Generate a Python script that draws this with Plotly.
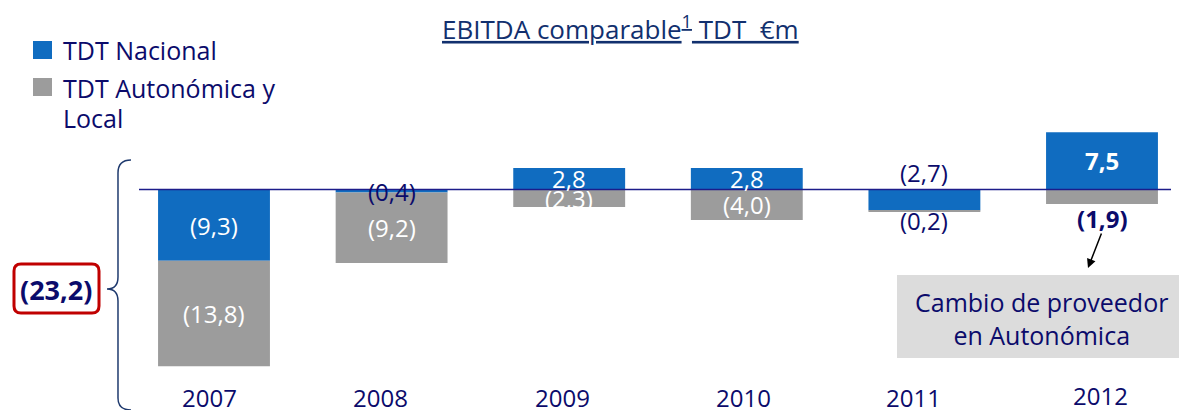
import plotly.graph_objects as go

# ---------------- data ----------------
years = ["2007", "2008", "2009", "2010", "2011", "2012"]
nacional = [-9.3, -0.4, 2.8, 2.8, -2.7, 7.5]
autonomica = [-13.8, -9.2, -2.3, -4.0, -0.2, -1.9]
series_names = ["TDT Nacional", "TDT Autonómica y<br>Local"]
title_text = "EBITDA comparable<sup>1</sup> TDT\u00a0 €m"
total_2007_label = "(23,2)"
callout_text = "Cambio de proveedor<br>en Autonómica"

# ---------------- styles ----------------
BLUE = "#106cc0"
GRAY = "#9c9c9c"
NAVY = "#0b0b6b"
TITLE_NAVY = "#12306e"
FONT = "Open Sans"
W, H = 1179, 410

# label placement / style per bar (not data)
nac_pos = ["center", "center", "center", "center", "above", "center"]
nac_col = ["white", NAVY, "white", "white", NAVY, "white"]
nac_bold = [False, False, False, False, False, True]
aut_pos = ["center", "center", "center", "center", "below", "below"]
aut_col = ["white", "white", "white", "white", NAVY, NAVY]
aut_bold = [False, False, False, False, False, True]
aut_below_px = [0, 0, 0, 0, 9, 14]          # label centre offset under bar end
year_xshift = [-5, -11, -7, -3, -11, -2]
year_ypx = [397, 397, 397, 397, 397, 395]

# pixel geometry helpers (layout only)
ZERO_PX, K = 189.5, 7.65          # y pixel of zero, pixels per unit
C0, STEP = 214.0, 177.6           # x pixel of first category, spacing
y_range = [-(H - ZERO_PX) / K, ZERO_PX / K]
x_range = [-C0 / STEP, (W - C0) / STEP]


def px(x):
    return x / W


def py(y):
    return 1 - y / H


def fmt(v):
    s = f"{abs(v):.1f}".replace(".", ",")
    return f"({s})" if v < 0 else s


fig = go.Figure()
fig.add_trace(go.Bar(x=years, y=nacional, name=series_names[0],
                     marker=dict(color=BLUE, line=dict(width=0)),
                     width=0.63, showlegend=False, hoverinfo="skip"))
fig.add_trace(go.Bar(x=years, y=autonomica, name=series_names[1],
                     marker=dict(color=GRAY, line=dict(width=0)),
                     width=0.63, showlegend=False, hoverinfo="skip"))

annotations = []
shapes = []

# baseline
shapes.append(dict(type="line", xref="paper", yref="y",
                   x0=px(139), x1=px(1171), y0=0, y1=0,
                   line=dict(color="#1c1c8a", width=1.5), layer="above"))

# bar labels (x given as category index)
for i, yr in enumerate(years):
    vn, va = nacional[i], autonomica[i]
    base_a = vn if (va < 0) == (vn < 0) else 0
    for v, base, pos, col, bold, off in [
        (vn, 0, nac_pos[i], nac_col[i], nac_bold[i], 0),
        (va, base_a, aut_pos[i], aut_col[i], aut_bold[i], aut_below_px[i]),
    ]:
        txt = fmt(v)
        if bold:
            txt = f"<b>{txt}</b>"
        a = dict(x=i, xref="x", yref="y", text=txt, showarrow=False,
                 borderpad=0,
                 font=dict(family=FONT, size=24, color=col))
        if pos == "center":
            a.update(y=base + v / 2, yanchor="middle")
        elif pos == "above":
            a.update(y=0, yanchor="bottom", yshift=0)
        else:  # below
            a.update(y=base + v, yanchor="middle", yshift=-off)
        annotations.append(a)

# year labels
for i, yr in enumerate(years):
    annotations.append(dict(x=i, xref="x", yref="paper", y=py(year_ypx[i]),
                            xshift=year_xshift[i], borderpad=0,
                            text=yr, showarrow=False, yanchor="middle",
                            font=dict(family=FONT, size=24, color=NAVY)))

# title
annotations.append(dict(x=px(620), y=py(28), xref="paper", yref="paper",
                        text=f"<u>{title_text}</u>", showarrow=False,
                        xanchor="center", yanchor="middle",
                        font=dict(family=FONT, size=26, color=TITLE_NAVY)))

# legend (custom)
for j, (col, ytop) in enumerate([(BLUE, 41), (GRAY, 78)]):
    shapes.append(dict(type="rect", xref="paper", yref="paper",
                       x0=px(33), x1=px(52), y0=py(ytop), y1=py(ytop + 18),
                       fillcolor=col, line=dict(width=0)))
legend_lines = [(series_names[0], 50)] + [
    (ln, y) for ln, y in zip(series_names[1].split("<br>"), [88, 118])]
for txt, ycen in legend_lines:
    annotations.append(dict(x=px(61), y=py(ycen), xref="paper", yref="paper",
                            text=txt, showarrow=False,
                            xanchor="left", yanchor="middle", align="left",
                            font=dict(family=FONT, size=25, color=NAVY)))

# brace
def P(x, y):
    return f"{px(x):.5f},{py(y):.5f}"

brace = (f"M {P(131,160)} Q {P(118,160)} {P(118,173)} L {P(118,277)} "
         f"Q {P(118,289)} {P(107,289)} Q {P(118,289)} {P(118,301)} "
         f"L {P(118,398)} Q {P(118,410)} {P(131,410)}")
shapes.append(dict(type="path", xref="paper", yref="paper", path=brace,
                   line=dict(color="#1f3a6e", width=1.5)))

# red rounded box with total
x0, x1, y0, y1, r = 14, 99, 264, 313, 7
box = (f"M {P(x0+r,y0)} L {P(x1-r,y0)} Q {P(x1,y0)} {P(x1,y0+r)} "
       f"L {P(x1,y1-r)} Q {P(x1,y1)} {P(x1-r,y1)} L {P(x0+r,y1)} "
       f"Q {P(x0,y1)} {P(x0,y1-r)} L {P(x0,y0+r)} Q {P(x0,y0)} {P(x0+r,y0)} Z")
shapes.append(dict(type="path", xref="paper", yref="paper", path=box,
                   line=dict(color="#c00000", width=3), fillcolor="white"))
annotations.append(dict(x=px(56), y=py(289), xref="paper", yref="paper",
                        text=f"<b>{total_2007_label}</b>", showarrow=False,
                        xanchor="center", yanchor="middle",
                        font=dict(family=FONT, size=27, color=NAVY)))

# callout
shapes.append(dict(type="rect", xref="paper", yref="paper",
                   x0=px(897), x1=px(1179), y0=py(275), y1=py(358),
                   fillcolor="#dcdcdc", line=dict(width=0)))
annotations.append(dict(x=px(1041), y=py(318), xref="paper", yref="paper",
                        text=callout_text, showarrow=False,
                        xanchor="center", yanchor="middle", align="center",
                        font=dict(family=FONT, size=25, color=NAVY)))
annotations.append(dict(x=px(1088), y=py(268), xref="paper", yref="paper",
                        ax=14, ay=-36, text="", showarrow=True,
                        arrowhead=2, arrowsize=1.2, arrowwidth=1.5,
                        arrowcolor="black"))

fig.update_layout(
    width=W, height=H, autosize=False,
    margin=dict(l=0, r=0, t=0, b=0, pad=0),
    barmode="relative",
    plot_bgcolor="white", paper_bgcolor="white",
    xaxis=dict(type="category", range=x_range, showgrid=False,
               showticklabels=False, zeroline=False, showline=False,
               fixedrange=True),
    yaxis=dict(range=y_range, showgrid=False, showticklabels=False,
               zeroline=False, showline=False, fixedrange=True),
    annotations=annotations, shapes=shapes,
    font=dict(family=FONT),
)

fig.write_html("out.html",
               config={"displayModeBar": False},
               post_script="document.body.style.margin='0';"
                           "document.body.style.padding='0';")
